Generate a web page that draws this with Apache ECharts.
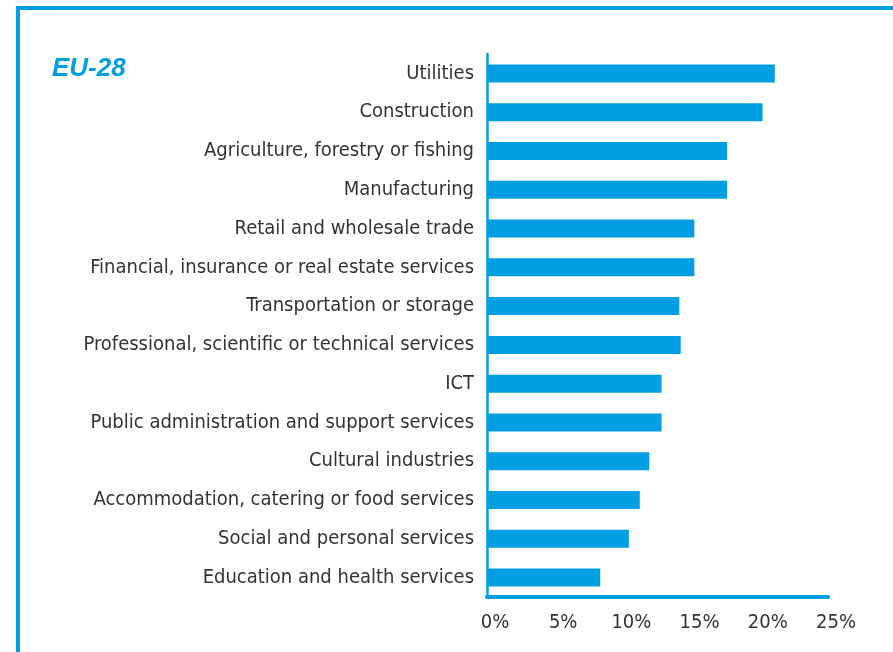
<!DOCTYPE html>
<html>
<head>
<meta charset="utf-8">
<script src="https://cdn.jsdelivr.net/npm/echarts@6/dist/echarts.min.js"></script>
<style>
html,body{margin:0;padding:0;background:#fff;}
#chart{width:893px;height:652px;}
</style>
</head>
<body>
<div id="chart"></div>
<script>
const categories = [
  "Utilities",
  "Construction",
  "Agriculture, forestry or fishing",
  "Manufacturing",
  "Retail and wholesale trade",
  "Financial, insurance or real estate services",
  "Transportation or storage",
  "Professional, scientific or technical services",
  "ICT",
  "Public administration and support services",
  "Cultural industries",
  "Accommodation, catering or food services",
  "Social and personal services",
  "Education and health services"
];
const values = [21.1, 20.2, 17.6, 17.6, 15.2, 15.2, 14.1, 14.2, 12.8, 12.8, 11.9, 11.2, 10.4, 8.3];
const titleText = "EU-28";
const blue = "#009FE3";
const labelFont = "'DejaVu Sans Condensed', 'Liberation Sans', sans-serif";

const chart = echarts.init(document.getElementById('chart'));
chart.setOption({
  animation: false,
  title: {
    text: titleText,
    left: 47,
    top: 51,
    textStyle: {
      fontFamily: "Liberation Sans",
      fontStyle: "italic",
      fontWeight: "bold",
      fontSize: 26,
      color: blue
    }
  },
  graphic: [{
    type: 'rect',
    shape: { x: 18, y: 8, width: 1000, height: 800 },
    style: { fill: 'none', stroke: blue, lineWidth: 4 },
    silent: true
  }],
  grid: { left: 487, right: 65, top: 54, bottom: 55, containLabel: false },
  xAxis: {
    type: 'value',
    min: 0, max: 25, interval: 5,
    axisLine: { show: true, lineStyle: { color: blue, width: 4 } },
    axisTick: { show: false },
    splitLine: { show: false },
    axisLabel: {
      formatter: '{value}%',
      margin: 16,
      padding: [0, 0, 0, 16],
      fontFamily: labelFont,
      fontSize: 20,
      color: '#333'
    }
  },
  yAxis: {
    type: 'category',
    data: categories,
    inverse: true,
    axisLine: { show: true, lineStyle: { color: blue, width: 2.5 } },
    axisTick: { show: false },
    axisLabel: {
      margin: 13,
      fontFamily: labelFont,
      fontSize: 20,
      color: '#333'
    }
  },
  series: [{
    type: 'bar',
    data: values,
    barWidth: 18,
    itemStyle: { color: blue }
  }]
});
</script>
</body>
</html>
